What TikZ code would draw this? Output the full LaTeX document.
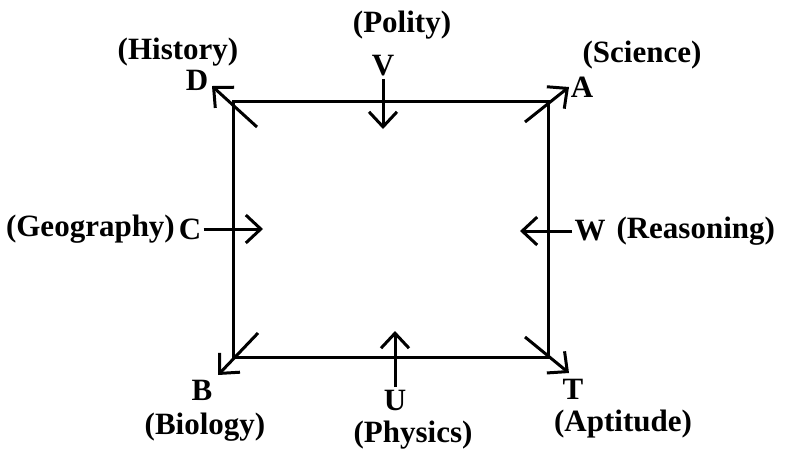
\documentclass[tikz,border=0pt]{standalone}
\usepackage{fontspec}
\setmainfont{Liberation Serif}
\usetikzlibrary{arrows.meta}

\begin{document}
\begin{tikzpicture}[x=1pt, y=-1pt, line width=3pt,
    lbl/.style = {font=\bfseries\fontsize{31}{33}\selectfont, inner sep=1pt},
    pointer/.style = {-{Straight Barb[length=15pt, width=28pt, line width=3pt]}}]
    \useasboundingbox (0,0) rectangle (786,451);

    % corners of the square
    \coordinate (tl) at (233,101);
    \coordinate (tr) at (548,101);
    \coordinate (br) at (548,357);
    \coordinate (bl) at (233,357);
    \draw (tl) -- (tr) -- (br) -- (bl) -- cycle;

    % corner persons
    \node[lbl] (D) at (197,80) {D};
    \node[lbl] (A) at (582,87) {A};
    \node[lbl] (B) at (202,390) {B};
    \node[lbl] (T) at (573,389) {T};
    \node[lbl] (history) at (178,52) {(History)};
    \node[lbl] (science) at (642,55) {(Science)};
    \node[lbl] (biology) at (205,427) {(Biology)};
    \node[lbl] (aptitude) at (623,424) {(Aptitude)};

    % middle persons
    \node[lbl] (V) at (383,66) {V};
    \node[lbl] (C) at (190,229) {C};
    \node[lbl] (W) at (590,231) {W};
    \node[lbl] (U) at (395,400) {U};
    \node[lbl] (polity) at (402,25) {(Polity)};
    \node[lbl, anchor=east, inner xsep=0pt] (geography) at (C.west) {(Geography)};
    \node[lbl, anchor=west] (reasoning) at ([xshift=6pt]W.east) {(Reasoning)};
    \node[lbl] (physics) at (413,435) {(Physics)};

    % facing directions
    \coordinate (Dtail) at (257,127);
    \coordinate (Dtip) at (212,86);
    \coordinate (Atail) at (525,122);
    \coordinate (Atip) at (569,87);
    \coordinate (Btail) at (258,333);
    \coordinate (Btip) at (218,375);
    \coordinate (Ttail) at (525,337);
    \coordinate (Ttip) at (569,373);
    \coordinate (Vtip) at (383,129);
    \coordinate (Ctip) at (263,229);
    \coordinate (Wtip) at (520,231);
    \coordinate (Utip) at (395,331);

    \draw[pointer] (V.south) -- (Vtip);
    \draw[pointer] (C.east) -- (Ctip);
    \draw[pointer] (W.west) -- (Wtip);
    \draw[pointer] (U.north) -- (Utip);
    \draw[pointer] (Dtail) -- (Dtip);
    \draw[pointer] (Atail) -- (Atip);
    \draw[pointer] (Btail) -- (Btip);
    \draw[pointer] (Ttail) -- (Ttip);
\end{tikzpicture}
\end{document}
